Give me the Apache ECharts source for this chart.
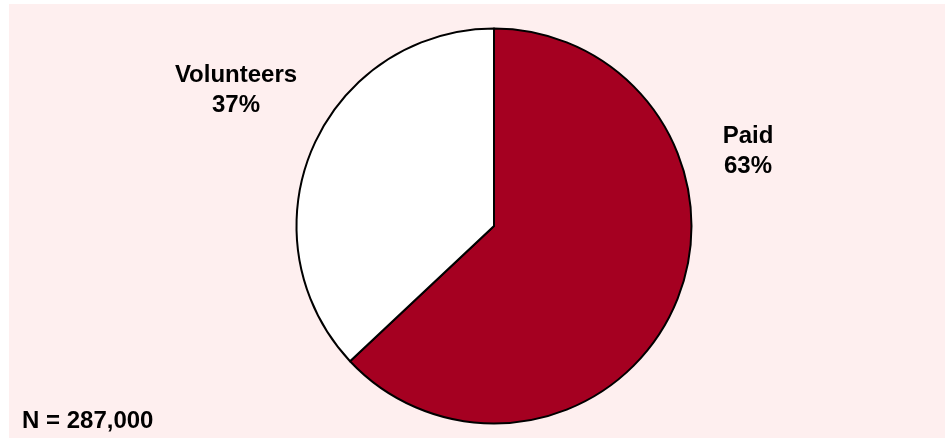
<!DOCTYPE html>
<html>
<head>
<meta charset="utf-8">
<script src="https://cdn.jsdelivr.net/npm/echarts@6/dist/echarts.min.js"></script>
<style>
html,body{margin:0;padding:0;background:#ffffff;}
#chart{position:absolute;left:9px;top:4px;width:936px;height:434px;background:#FEEFEF;}
</style>
</head>
<body>
<div id="chart"></div>
<script>
var categories = ['Paid', 'Volunteers'];
var values = [63, 37];
var sliceColors = ['#A50021', '#FFFFFF'];
var noteText = 'N = 287,000';

var labelPos = {
  'Paid': [739, 147],
  'Volunteers': [227, 86.5]
};

var chart = echarts.init(document.getElementById('chart'), null, {renderer: 'canvas'});
var font = '"Liberation Sans", Arial, sans-serif';
chart.setOption({
  animation: false,
  backgroundColor: 'transparent',
  graphic: [{
    type: 'text',
    left: 13,
    top: 405,
    style: {text: noteText, font: 'bold 24px ' + font, fill: '#000000'}
  }],
  series: [{
    type: 'pie',
    center: [485, 222],
    radius: 197.5,
    startAngle: 90,
    clockwise: true,
    data: categories.map(function (c, i) {
      return {name: c, value: values[i], itemStyle: {color: sliceColors[i]}};
    }),
    itemStyle: {borderColor: '#000000', borderWidth: 2},
    label: {
      show: true,
      position: 'outside',
      formatter: function (p) { return p.name + '\n' + Math.round(p.percent) + '%'; },
      fontFamily: font,
      fontWeight: 'bold',
      fontSize: 24,
      lineHeight: 30,
      color: '#000000',
      align: 'center'
    },
    labelLine: {show: false},
    labelLayout: function (params) {
      var p = labelPos[categories[params.dataIndex]];
      return {x: p[0], y: p[1], align: 'center', verticalAlign: 'middle'};
    },
    emphasis: {disabled: true}
  }]
});
</script>
</body>
</html>
